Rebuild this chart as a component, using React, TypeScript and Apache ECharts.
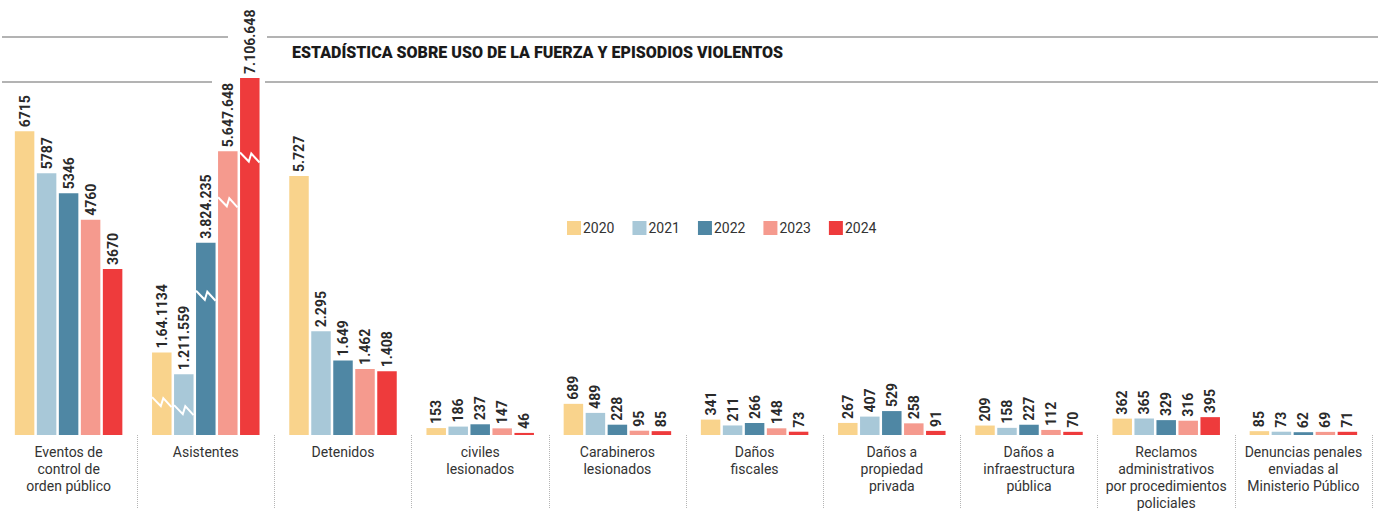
import React, { useEffect, useRef } from "react";
import * as echarts from "echarts";

const CATEGORIES = [
  "Eventos de\ncontrol de\norden público",
  "Asistentes",
  "Detenidos",
  "civiles\nlesionados",
  "Carabineros\nlesionados",
  "Daños\nfiscales",
  "Daños a\npropiedad\nprivada",
  "Daños a\ninfraestructura\npública",
  "Reclamos\nadministrativos\npor procedimientos\npoliciales",
  "Denuncias penales\nenviadas al\nMinisterio Público",
];

const YEARS = ["2020", "2021", "2022", "2023", "2024"];
const COLORS = ["#F9D38C", "#A8C8D8", "#4F87A4", "#F59A8E", "#EE3B3C"];

const V2020 = [6715, 1641134, 5727, 153, 689, 341, 267, 209, 362, 85];
const V2021 = [5787, 1211559, 2295, 186, 489, 211, 407, 158, 365, 73];
const V2022 = [5346, 3824235, 1649, 237, 228, 266, 529, 227, 329, 62];
const V2023 = [4760, 5647648, 1462, 147, 95, 148, 258, 112, 316, 69];
const V2024 = [3670, 7106648, 1408, 46, 85, 73, 91, 70, 395, 71];

const L2020 = ["6715", "1.64.1134", "5.727", "153", "689", "341", "267", "209", "362", "85"];
const L2021 = ["5787", "1.211.559", "2.295", "186", "489", "211", "407", "158", "365", "73"];
const L2022 = ["5346", "3.824.235", "1.649", "237", "228", "266", "529", "227", "329", "62"];
const L2023 = ["4760", "5.647.648", "1.462", "147", "95", "148", "258", "112", "316", "69"];
const L2024 = ["3670", "7.106.648", "1.408", "46", "85", "73", "91", "70", "395", "71"];

// "Asistentes" is drawn on a broken (compressed) scale
const BROKEN_CATEGORY = 1;
const BROKEN_DIVISOR = 900;
// where the break marks sit on each Asistentes bar (in plotted units)
const BREAK_AT = [726, 550, 3080, 5146, 6136];

const VALUES = [V2020, V2021, V2022, V2023, V2024];
const LABELS = [L2020, L2021, L2022, L2023, L2024];

const BAR_W = 19.5;
const BAR_GAP = 2.5;
const FONT = "Roboto, 'Open Sans', sans-serif";

export default function App() {
  const ref = useRef<HTMLDivElement>(null);

  useEffect(() => {
    if (!ref.current) return;
    const chart = echarts.init(ref.current, null, { renderer: "svg" });

    const barSeries = YEARS.map((year, si) => ({
      name: year,
      type: "bar",
      barWidth: BAR_W,
      barGap: `${(BAR_GAP / BAR_W) * 100}%`,
      itemStyle: { color: COLORS[si] },
      data: VALUES[si].map((v, ci) => ({
        value: ci === BROKEN_CATEGORY ? v / BROKEN_DIVISOR : v,
        label: { formatter: LABELS[si][ci] },
      })),
      label: {
        show: true,
        position: "top",
        rotate: 90,
        align: "left",
        verticalAlign: "middle",
        distance: 4,
        fontFamily: FONT,
        fontWeight: "bold",
        fontSize: 14,
        color: "#2a2a2a",
      },
      z: 2,
    }));

    const breakSeries = {
      type: "custom",
      coordinateSystem: "cartesian2d",
      silent: true,
      z: 5,
      data: BREAK_AT.map((b, si) => [BROKEN_CATEGORY, b, si]),
      renderItem: (params: any, api: any) => {
        const p = api.coord([api.value(0), api.value(1)]);
        const si = api.value(2);
        const cx = p[0] + (si - 2) * (BAR_W + BAR_GAP);
        const cy = p[1];
        const hw = BAR_W / 2;
        return {
          type: "polyline",
          shape: {
            points: [
              [cx - hw, cy - 5],
              [cx - 1, cy + 4],
              [cx + 1.5, cy - 4],
              [cx + hw, cy + 5],
            ],
          },
          style: { stroke: "#ffffff", lineWidth: 2, fill: "none" },
        };
      },
    };

    const lineStyle = { stroke: "#9a9a9a", lineWidth: 1.5 };

    chart.setOption({
      animation: false,
      backgroundColor: "#ffffff",
      grid: { left: -3, right: 8, top: 77, bottom: 74, containLabel: false },
      legend: {
        data: YEARS,
        left: 562,
        top: 216,
        icon: "rect",
        itemWidth: 14,
        itemHeight: 14,
        itemGap: 18,
        textStyle: { fontFamily: FONT, fontSize: 14, color: "#333", padding: [0, 0, 0, -3] },
        selectedMode: false,
      },
      xAxis: {
        type: "category",
        data: CATEGORIES,
        axisLine: { show: false },
        axisTick: {
          show: true,
          length: 74,
          interval: (index: number) => index > 0 && index < CATEGORIES.length,
          lineStyle: { color: "#b5b5b5", type: "dotted", width: 1 },
        },
        axisLabel: {
          interval: 0,
          margin: 8,
          fontFamily: FONT,
          fontSize: 14,
          lineHeight: 17,
          color: "#333",
        },
      },
      yAxis: { type: "value", min: 0, max: 7917, show: false },
      graphic: [
        { type: "line", shape: { x1: 2, y1: 37, x2: 228, y2: 37 }, style: lineStyle },
        { type: "line", shape: { x1: 267, y1: 37, x2: 1378, y2: 37 }, style: lineStyle },
        { type: "line", shape: { x1: 2, y1: 82, x2: 212, y2: 82 }, style: lineStyle },
        { type: "line", shape: { x1: 265, y1: 82, x2: 1378, y2: 82 }, style: lineStyle },
        {
          type: "text",
          x: 292,
          y: 52,
          style: {
            text: "ESTADÍSTICA SOBRE USO DE LA FUERZA Y EPISODIOS VIOLENTOS",
            fontFamily: FONT,
            fontWeight: 900,
            fontSize: 16,
            fill: "#1a1a1a",
            verticalAlign: "middle",
          },
        },
      ],
      series: [...barSeries, breakSeries],
    });

    return () => chart.dispose();
  }, []);

  return (
    <div
      ref={ref}
      style={{ position: "fixed", left: 0, top: 0, width: 1380, height: 511, background: "#fff" }}
    />
  );
}
